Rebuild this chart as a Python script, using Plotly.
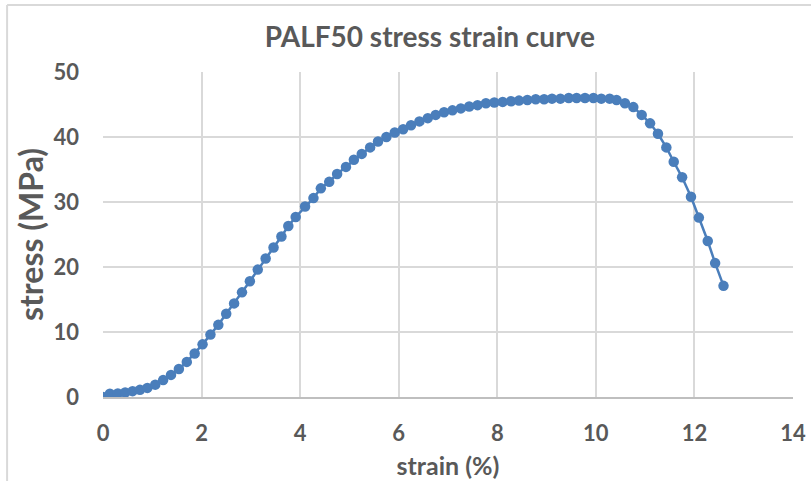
import plotly.graph_objects as go

strain = [0.0, 0.14, 0.30, 0.45, 0.60, 0.75, 0.90, 1.06, 1.22, 1.38, 1.54, 1.70, 1.86, 2.02,
          2.18, 2.34, 2.50, 2.66, 2.82, 2.98, 3.14, 3.30, 3.46, 3.62, 3.76, 3.91, 4.10, 4.27,
          4.42, 4.59, 4.75, 4.93, 5.09, 5.25, 5.42, 5.58, 5.75, 5.92, 6.09, 6.25, 6.42, 6.59,
          6.75, 6.92, 7.09, 7.26, 7.43, 7.60, 7.77, 7.94, 8.11, 8.28, 8.44, 8.61, 8.78, 8.95,
          9.11, 9.28, 9.45, 9.61, 9.78, 9.95, 10.11, 10.28, 10.42, 10.59, 10.76, 10.93, 11.10,
          11.26, 11.43, 11.58, 11.75, 11.93, 12.09, 12.27, 12.42, 12.59]
stress = [0.0, 0.5, 0.55, 0.7, 0.9, 1.1, 1.4, 1.9, 2.6, 3.4, 4.3, 5.4, 6.7, 8.1,
          9.6, 11.1, 12.8, 14.4, 16.1, 17.8, 19.6, 21.3, 23.0, 24.7, 26.3, 27.7, 29.3, 30.6,
          32.1, 33.1, 34.3, 35.4, 36.5, 37.4, 38.4, 39.3, 40.0, 40.7, 41.2, 41.8, 42.4, 42.9,
          43.4, 43.8, 44.1, 44.4, 44.7, 44.9, 45.2, 45.3, 45.4, 45.5, 45.6, 45.7, 45.8, 45.8,
          45.9, 45.9, 46.0, 46.0, 46.0, 46.0, 45.9, 45.9, 45.7, 45.2, 44.6, 43.4, 42.1,
          40.5, 38.4, 36.2, 33.8, 30.8, 27.6, 24.0, 20.6, 17.1]

x_ticks = [0, 2, 4, 6, 8, 10, 12, 14]
y_ticks = [0, 10, 20, 30, 40, 50]

gray = "#595959"
font_family = "Lato, 'Open Sans', sans-serif"

fig = go.Figure()
fig.add_trace(go.Scatter(
    x=strain, y=stress, mode="lines+markers",
    line=dict(color="#4a7ebb", width=2.5),
    marker=dict(color="#4a7ebb", size=10.5),
    showlegend=False,
))

fig.update_layout(
    width=811, height=481,
    margin=dict(l=103, r=18, t=72, b=84),
    paper_bgcolor="white", plot_bgcolor="white",
    title=dict(text="<b>PALF50 stress strain curve</b>", x=0.53, xanchor="center",
               y=1 - 37 / 481, yanchor="middle",
               font=dict(family=font_family, size=28, color=gray)),
    xaxis=dict(range=[0, 14], tickvals=x_ticks, ticktext=[f"<b>{v}</b>" for v in x_ticks],
               showgrid=True, gridcolor="#d9d9d9", gridwidth=1.5,
               zeroline=False, showline=True, linecolor="#bfbfbf", linewidth=1.5,
               mirror=False, ticks="", ticklabelstandoff=16, automargin=False,
               tickfont=dict(family=font_family, size=22, color=gray),
               title=dict(text="<b>strain (%)</b>", standoff=12,
                          font=dict(family=font_family, size=25, color=gray))),
    yaxis=dict(range=[0, 50], tickvals=y_ticks, ticktext=[f"<b>{v}</b>" for v in y_ticks],
               showgrid=True, gridcolor="#d9d9d9", gridwidth=1.5,
               zeroline=False, showline=False, ticks="", ticklabelstandoff=23,
               automargin=False,
               tickfont=dict(family=font_family, size=22, color=gray),
               title=dict(text="<b>stress (MPa)</b>", standoff=0,
                          font=dict(family=font_family, size=32, color=gray))),
    shapes=[
        dict(type="line", xref="paper", yref="paper", x0=-0.139, x1=1.03,
             y0=1.206, y1=1.206, line=dict(color="#d9d9d9", width=2)),
        dict(type="line", xref="paper", yref="paper", x0=-0.139, x1=-0.139,
             y0=1.206, y1=-0.3, line=dict(color="#d9d9d9", width=2)),
    ],
)

fig.write_html("out.html", config={"displayModeBar": False},
               post_script="document.body.style.margin='0';")
